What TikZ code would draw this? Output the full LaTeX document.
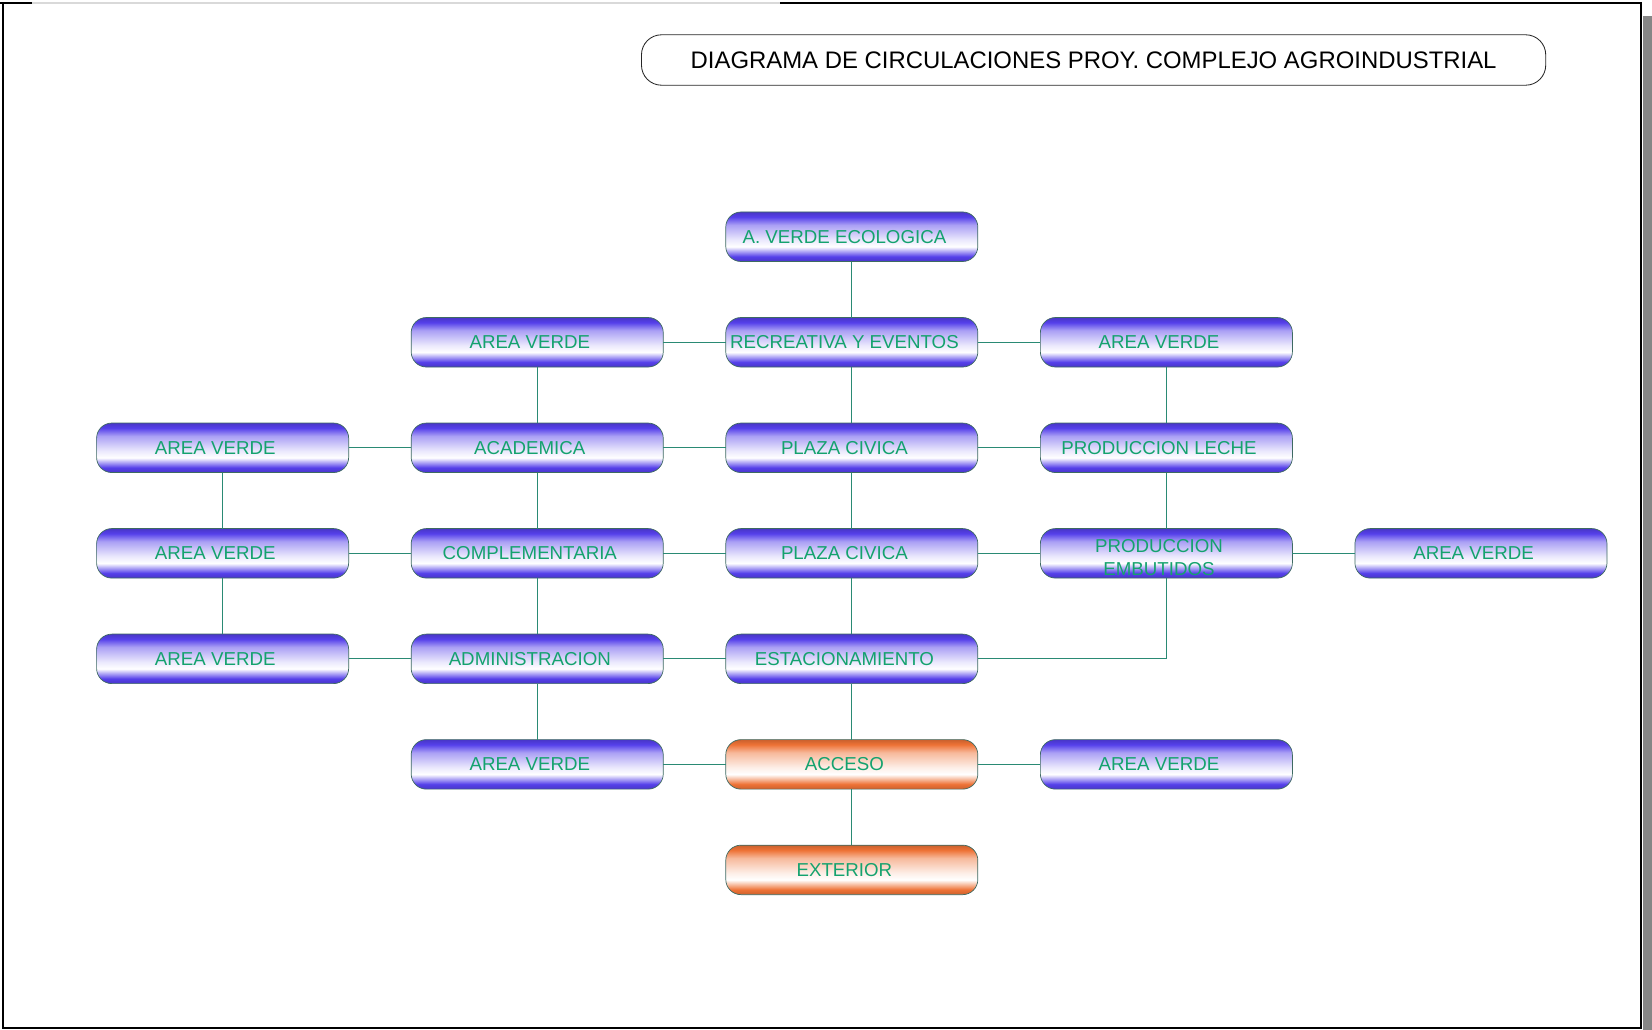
\documentclass[tikz,border=0pt]{standalone}
\usepackage{fontspec}
\setmainfont{Liberation Sans}
\usepackage{tikz}
\usetikzlibrary{positioning}
\usepackage{xcolor}
\definecolor{nodeblue}{HTML}{5540EA}
\definecolor{nodeorange}{HTML}{EE7236}
\definecolor{labelgreen}{HTML}{14A26E}
\definecolor{linkteal}{HTML}{2A8A74}
\definecolor{rimgrey}{HTML}{3E6A62}
\pgfdeclareverticalshading{bluebar}{100bp}{color(0bp)=(nodeblue!85!black); color(25bp)=(nodeblue!85!black); color(30bp)=(nodeblue); color(40bp)=(white); color(47bp)=(white!88!nodeblue); color(62bp)=(nodeblue!50!white); color(70bp)=(nodeblue); color(75bp)=(nodeblue!85!black); color(100bp)=(nodeblue!85!black)}
\pgfdeclareverticalshading{orangebar}{100bp}{color(0bp)=(nodeorange!85!black); color(25bp)=(nodeorange!85!black); color(30bp)=(nodeorange); color(40bp)=(white); color(47bp)=(white!88!nodeorange); color(62bp)=(nodeorange!50!white); color(70bp)=(nodeorange); color(75bp)=(nodeorange!85!black); color(100bp)=(nodeorange!85!black)}

\begin{document}
\begin{tikzpicture}[
  x=0.025cm, y=-0.025cm,
  node distance=1.4cm and 1.5625cm,
  zone/.style={rectangle, rounded corners=0.38cm, draw=rimgrey, line width=0.5pt,
               shading=bluebar, minimum width=6.3cm, minimum height=1.2375cm,
               outer sep=0pt, inner sep=1pt,
               font=\fontsize{13.3}{16}\selectfont, text=labelgreen,
               execute at begin node={\hspace*{-0.37cm}}},
  gate/.style={zone, shading=orangebar},
  title/.style={rectangle, rounded corners=0.5cm, draw=black!85, line width=0.6pt,
                minimum width=22.6cm, minimum height=1.26cm,
                font=\fontsize{17}{20}\selectfont, text=black},
  link/.style={draw=linkteal, line width=0.8pt},
]
  \useasboundingbox (0,0) rectangle (1652,1030);
  % frame
  \fill[gray!95] (1643,16) rectangle (1652,1030);
  \draw[black!15, line width=1.2pt] (32,3) -- (780,3);
  \draw[line width=2pt] (0,3) -- (32,3);
  \draw[line width=2pt] (780,3) -- (1641,3) -- (1641,1028) -- (3,1028) -- (3,3);

  \node[title] (ttl) at (1093.6,60) {DIAGRAMA DE CIRCULACIONES PROY. COMPLEJO AGROINDUSTRIAL};

  % central column
  \node[zone] (plz1) at (851.8,447.8) {PLAZA CIVICA};
  \node[zone, above=of plz1] (recr) {RECREATIVA Y EVENTOS};
  \node[zone, above=of recr] (ecol) {A. VERDE ECOLOGICA};
  \node[zone, below=of plz1] (plz2) {PLAZA CIVICA};
  \node[zone, below=of plz2] (estac) {ESTACIONAMIENTO};
  \node[gate, below=of estac] (acce) {ACCESO};
  \node[gate, below=of acce] (ext) {EXTERIOR};
  % left columns
  \node[zone, left=of plz1] (acad) {ACADEMICA};
  \node[zone, above=of acad] (av1) {AREA VERDE};
  \node[zone, below=of acad] (compl) {COMPLEMENTARIA};
  \node[zone, below=of compl] (admin) {ADMINISTRACION};
  \node[zone, below=of admin] (av7) {AREA VERDE};
  \node[zone, left=of acad] (av3) {AREA VERDE};
  \node[zone, below=of av3] (av4) {AREA VERDE};
  \node[zone, below=of av4] (av6) {AREA VERDE};
  % right columns
  \node[zone, right=of plz1] (leche) {PRODUCCION LECHE};
  \node[zone, above=of leche] (av2) {AREA VERDE};
  \node[zone, below=of leche] (embu) {\raisebox{-0.15cm}[\height][\depth]{\begin{tabular}{@{}c@{}}PRODUCCION\\EMBUTIDOS\end{tabular}}};
  \node[zone, right=of embu] (av5) {AREA VERDE};
  \node[zone, right=of acce] (av8) {AREA VERDE};

  % circulations
  \draw[link] (ecol) -- (recr);
  \draw[link] (av1) -- (recr) -- (av2);
  \draw[link] (av1) -- (acad);
  \draw[link] (recr) -- (plz1);
  \draw[link] (av2) -- (leche);
  \draw[link] (av3) -- (acad) -- (plz1) -- (leche);
  \draw[link] (av3) -- (av4) -- (av6);
  \draw[link] (acad) -- (compl) -- (admin) -- (av7);
  \draw[link] (plz1) -- (plz2) -- (estac) -- (acce) -- (ext);
  \draw[link] (leche) -- (embu);
  \draw[link] (av4) -- (compl) -- (plz2) -- (embu) -- (av5);
  \draw[link] (av6) -- (admin) -- (estac);
  \draw[link] (embu.south) |- (estac.east);
  \draw[link] (av7) -- (acce) -- (av8);
\end{tikzpicture}
\end{document}
